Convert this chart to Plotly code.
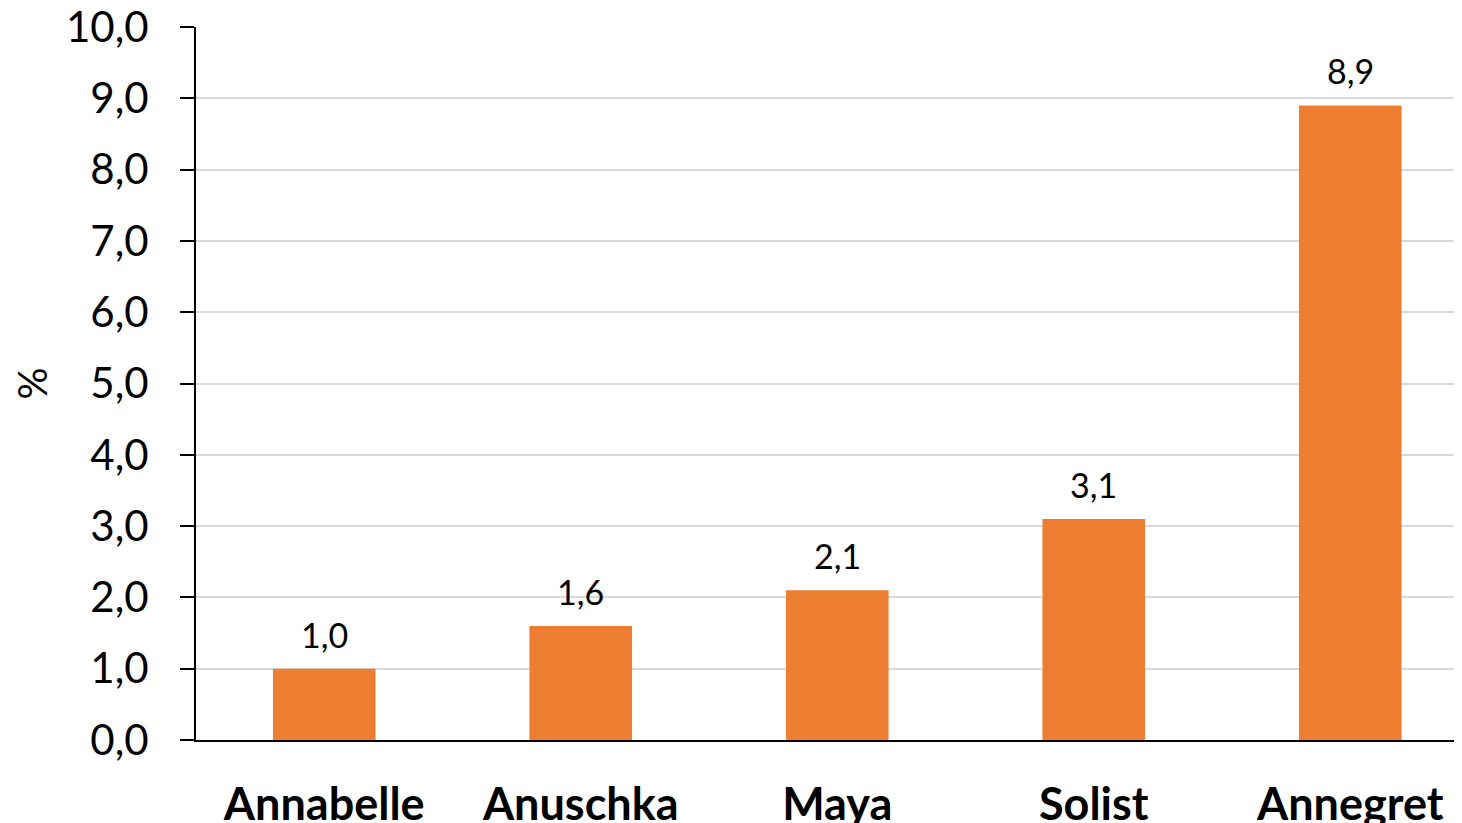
import plotly.graph_objects as go

categories = ["Annabelle", "Anuschka", "Maya", "Solist", "Annegret"]
values = [1.0, 1.6, 2.1, 3.1, 8.9]
y_ticks = [0, 1, 2, 3, 4, 5, 6, 7, 8, 9, 10]
y_tick_labels = ["0,0", "1,0", "2,0", "3,0", "4,0", "5,0", "6,0", "7,0", "8,0", "9,0", "10,0"]
value_labels = [f"{v:.1f}".replace(".", ",") for v in values]

FONT = "Lato"

fig = go.Figure()
fig.add_trace(go.Bar(
    x=categories, y=values, width=0.4,
    marker=dict(color="#ED7D31", line=dict(width=0)),
    hoverinfo="skip",
))

for c, v, t in zip(categories, values, value_labels):
    fig.add_annotation(x=c, y=v, text=t, showarrow=False, yanchor="bottom",
                       yshift=12, font=dict(family=FONT, size=34, color="#000000"))

W, H = 1446, 815
ML, MT, MB = 188, 19, 83
CAT_PX = 256.5

fig.update_layout(
    width=W, height=H,
    margin=dict(l=ML, r=0, t=MT, b=MB),
    paper_bgcolor="white", plot_bgcolor="white",
    showlegend=False, bargap=0.6,
    font=dict(family=FONT, color="#000000"),
)
fig.update_xaxes(
    range=[-0.5, -0.5 + (W - ML) / CAT_PX],
    automargin=False,
    showline=True, linecolor="#000000", linewidth=2,
    showgrid=False, ticks="",
    tickfont=dict(family=FONT, size=45, color="#000000", weight="bold"),
    ticklabelstandoff=24,
    ticklabeloverflow="allow",
)
fig.update_yaxes(
    range=[0, 10], tickvals=y_ticks, ticktext=y_tick_labels,
    automargin=False,
    showline=True, linecolor="#000000", linewidth=2,
    ticks="outside", ticklen=14, tickwidth=2, tickcolor="#000000",
    showgrid=True, gridcolor="#D9D9D9", gridwidth=1.5,
    zeroline=False,
    tickfont=dict(family=FONT, size=42, color="#000000"),
    ticklabelstandoff=23,
    ticklabeloverflow="allow",
    title=dict(text="%", font=dict(family=FONT, size=40, color="#000000"), standoff=35),
)

fig.write_html("out.html")
